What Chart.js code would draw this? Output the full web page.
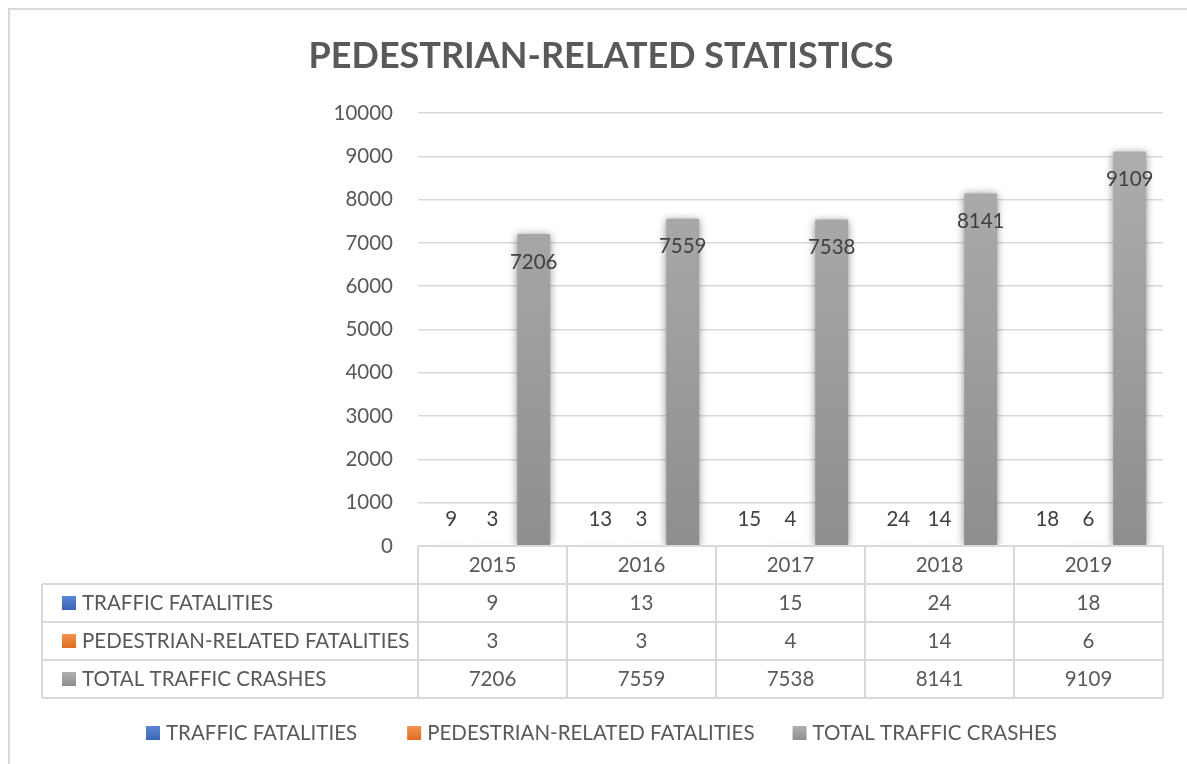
<!DOCTYPE html>
<html>
<head>
<meta charset="utf-8">
<script src="https://cdn.jsdelivr.net/npm/chart.js@4.4.1/dist/chart.umd.min.js"></script>
<style>
  html, body { margin: 0; padding: 0; background: #fff; }
  canvas { display: block; }
</style>
</head>
<body>
<canvas id="pedChart" width="1187" height="764"></canvas>
<script>
const years = ['2015', '2016', '2017', '2018', '2019'];
const trafficFatalities = [9, 13, 15, 24, 18];
const pedestrianFatalities = [3, 3, 4, 14, 6];
const totalCrashes = [7206, 7559, 7538, 8141, 9109];
const seriesNames = ['TRAFFIC FATALITIES', 'PEDESTRIAN-RELATED FATALITIES', 'TOTAL TRAFFIC CRASHES'];
const seriesColors = [['#5b87d6', '#3a65b5'], ['#f4924f', '#e06c20'], ['#b0b0b0', '#8e8e8e']];

const FONT = 'Lato, "Liberation Sans", sans-serif';
const TEXT = '#595959';
const LINE = '#d9d9d9';

const gradientFill = (idx) => (context) => {
    const area = context.chart.chartArea;
    if (!area) return seriesColors[idx][0];
    const g = context.chart.ctx.createLinearGradient(0, area.top, 0, area.bottom);
    g.addColorStop(0, seriesColors[idx][0]);
    g.addColorStop(1, seriesColors[idx][1]);
    return g;
};

const allSeries = [trafficFatalities, pedestrianFatalities, totalCrashes];

const shadowPlugin = {
    id: 'barShadow',
    beforeDatasetsDraw(chart) {
        const ctx = chart.ctx;
        ctx.save();
        ctx.shadowColor = 'rgba(0,0,0,0.45)';
        ctx.shadowBlur = 8;
        ctx.shadowOffsetX = 0;
        ctx.shadowOffsetY = 1;
    },
    afterDatasetsDraw(chart) {
        chart.ctx.restore();
    }
};

const swatch = (ctx, r, x, cy) => {
    const g = ctx.createLinearGradient(0, cy - 7, 0, cy + 7);
    g.addColorStop(0, seriesColors[r][0]);
    g.addColorStop(1, seriesColors[r][1]);
    ctx.fillStyle = g;
    ctx.fillRect(x, cy - 7, 14, 14);
};

const extrasPlugin = {
    id: 'extras',
    afterDraw(chart) {
        const ctx = chart.ctx;
        const x = chart.scales.x;
        const area = chart.chartArea;
        ctx.save();

        // outer frame
        ctx.strokeStyle = LINE;
        ctx.lineWidth = 2;
        ctx.strokeRect(9, 9, 2000, 2000);

        // title
        ctx.fillStyle = TEXT;
        ctx.font = 'bold 36px ' + FONT;
        ctx.textAlign = 'center';
        ctx.textBaseline = 'middle';
        ctx.fillText('PEDESTRIAN-RELATED STATISTICS', 601, 56);

        // data labels
        ctx.font = '20.5px ' + FONT;
        ctx.fillStyle = '#404040';
        chart.data.datasets.forEach((ds, i) => {
            const meta = chart.getDatasetMeta(i);
            meta.data.forEach((bar, j) => {
                const y = i === 2 ? bar.y + 28 : bar.y - 26;
                ctx.fillText(String(ds.data[j]), bar.x, y);
            });
        });

        // data table
        const rowH = 38;
        const top = area.bottom;
        const tableLeft = 42;
        const colW = (x.right - x.left) / years.length;
        ctx.strokeStyle = LINE;
        ctx.lineWidth = 2;
        ctx.beginPath();
        ctx.moveTo(x.left, top); ctx.lineTo(x.right, top);
        for (let r = 1; r <= 4; r++) {
            ctx.moveTo(tableLeft, top + r * rowH);
            ctx.lineTo(x.right, top + r * rowH);
        }
        ctx.moveTo(tableLeft, top + rowH); ctx.lineTo(tableLeft, top + 4 * rowH);
        for (let c = 0; c <= years.length; c++) {
            ctx.moveTo(x.left + c * colW, top);
            ctx.lineTo(x.left + c * colW, top + 4 * rowH);
        }
        ctx.stroke();

        ctx.fillStyle = TEXT;
        ctx.textAlign = 'center';
        years.forEach((yr, c) => {
            const cx = x.getPixelForValue(c);
            ctx.fillText(yr, cx, top + rowH / 2);
            allSeries.forEach((s, r) => {
                ctx.fillText(String(s[c]), cx, top + (r + 1.5) * rowH);
            });
        });
        ctx.textAlign = 'left';
        seriesNames.forEach((name, r) => {
            const cy = top + (r + 1.5) * rowH;
            swatch(ctx, r, 62, cy);
            ctx.fillStyle = TEXT;
            ctx.fillText(name, 82, cy);
        });

        // legend
        const gaps = [50, 38];
        let lx = 146;
        const ly = 733;
        seriesNames.forEach((name, r) => {
            swatch(ctx, r, lx, ly);
            ctx.fillStyle = TEXT;
            ctx.fillText(name, lx + 20, ly);
            lx += 20 + ctx.measureText(name).width + (gaps[r] || 0);
        });

        ctx.restore();
    }
};

new Chart(document.getElementById('pedChart').getContext('2d'), {
    type: 'bar',
    data: {
        labels: years,
        datasets: allSeries.map((s, i) => ({
            label: seriesNames[i],
            data: s,
            backgroundColor: gradientFill(i),
            borderWidth: 0,
            categoryPercentage: 0.83,
            barPercentage: 0.8
        }))
    },
    options: {
        responsive: false,
        animation: false,
        layout: { padding: { top: 113, left: 0, right: 24, bottom: 218 } },
        plugins: {
            legend: { display: false },
            title: { display: false },
            tooltip: { enabled: false }
        },
        scales: {
            x: { display: false },
            y: {
                min: 0,
                max: 10000,
                afterFit: (scale) => { scale.width = 418; },
                ticks: {
                    stepSize: 1000,
                    padding: 25,
                    color: TEXT,
                    font: { family: FONT, size: 20.5 },
                    callback: (value) => String(value)
                },
                grid: { color: LINE, lineWidth: 1.5, drawTicks: false },
                border: { display: false }
            }
        }
    },
    plugins: [shadowPlugin, extrasPlugin]
});
</script>
</body>
</html>
